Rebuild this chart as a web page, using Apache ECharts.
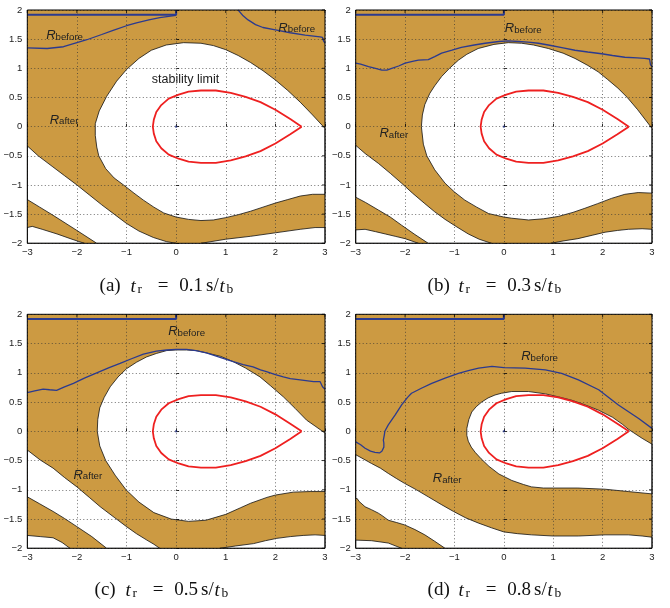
<!DOCTYPE html>
<html><head><meta charset="utf-8">
<script src="https://cdn.jsdelivr.net/npm/echarts@6/dist/echarts.min.js"></script>
<style>html,body{margin:0;padding:0;background:#fff}#c{width:670px;height:608px}</style>
</head><body><div id="c"></div>
<script>
// ---------- tick values ----------
const xTicks = [-3, -2, -1, 0, 1, 2, 3];
const yTicks = [-2, -1.5, -1, -0.5, 0, 0.5, 1, 1.5, 2];

// ---------- stability limit (red teardrop, same in all panels) ----------
const stabilityLimit = [[2.53,0],[2.3,0.13],[2.0,0.29],[1.7,0.42],[1.4,0.51],[1.1,0.58],[0.8,0.62],[0.5,0.62],[0.25,0.6],[0.05,0.55],[-0.15,0.48],[-0.3,0.37],[-0.4,0.25],[-0.45,0.12],[-0.47,0],[-0.45,-0.12],[-0.4,-0.25],[-0.3,-0.37],[-0.15,-0.48],[0.05,-0.55],[0.25,-0.6],[0.5,-0.62],[0.8,-0.62],[1.1,-0.58],[1.4,-0.51],[1.7,-0.42],[2.0,-0.29],[2.3,-0.13],[2.53,0]];
const origin = [[0, 0]];
const rectBefore = [[-3,1.92],[0,1.92],[0,2]];

// ---------- panel (a) t_r = 0.1 ----------
const A_center = [[3,-0.03],[2.75,0.2],[2.5,0.42],[2.25,0.62],[2.0,0.8],[1.75,0.96],[1.5,1.1],[1.25,1.22],[1.0,1.32],[0.75,1.39],[0.5,1.43],[0.15,1.44],[-0.2,1.4],[-0.5,1.31],[-0.75,1.17],[-1.0,0.98],[-1.2,0.78],[-1.4,0.52],[-1.55,0.27],[-1.63,0.05],[-1.63,-0.15],[-1.6,-0.35],[-1.56,-0.5],[-1.42,-0.72],[-1.25,-0.88],[-1.06,-1.0],[-0.85,-1.14],[-0.66,-1.26],[-0.45,-1.38],[-0.25,-1.48],[0,-1.55],[0.25,-1.59],[0.5,-1.61],[0.75,-1.6],[1.0,-1.56],[1.25,-1.51],[1.5,-1.45],[1.75,-1.38],[2.0,-1.31],[2.25,-1.25],[2.5,-1.19],[2.75,-1.16],[3,-1.16]];
const A_band = [[-3,-0.33],[-2.78,-0.5],[-2.5,-0.68],[-2.25,-0.84],[-2.0,-1.0],[-1.75,-1.17],[-1.5,-1.34],[-1.25,-1.5],[-1.0,-1.66],[-0.75,-1.79],[-0.46,-1.9],[-0.2,-1.97],[0,-2.0],[-1.6,-2],[-2.0,-1.78],[-2.48,-1.52],[-2.75,-1.38],[-3,-1.25]];
const A_bottom = [[0.5,-2],[1.0,-1.93],[1.5,-1.88],[2.0,-1.82],[2.5,-1.76],[2.8,-1.73],[3,-1.73],[3,-2]];
const A_corner = [[-3,-1.73],[-2.9,-1.71],[-2.7,-1.76],[-2.4,-1.84],[-2.1,-1.93],[-1.85,-2],[-3,-2]];
const A_blueLeft = [[-3,1.35],[-2.6,1.34],[-2.27,1.37],[-2.0,1.44],[-1.8,1.49],[-1.5,1.58],[-1.27,1.65],[-1.0,1.73],[-0.8,1.78],[-0.55,1.83],[-0.33,1.87],[-0.15,1.89],[0,1.91]];
const A_blueRight = [[1.25,2],[1.35,1.9],[1.45,1.83],[1.6,1.75],[1.75,1.7],[2.0,1.66],[2.3,1.61],[2.6,1.57],[2.9,1.54],[2.95,1.53],[2.97,1.47],[3,1.43]];

// ---------- panel (b) t_r = 0.3 ----------
const B_center = [[3,-0.03],[2.71,0.29],[2.5,0.5],[2.31,0.66],[2.1,0.81],[1.91,0.94],[1.7,1.05],[1.44,1.17],[1.2,1.26],[0.9,1.34],[0.6,1.4],[0.36,1.43],[0.09,1.44],[-0.2,1.41],[-0.52,1.34],[-0.75,1.24],[-0.92,1.14],[-1.1,1.0],[-1.26,0.86],[-1.4,0.7],[-1.5,0.57],[-1.6,0.38],[-1.65,0.2],[-1.67,0],[-1.63,-0.3],[-1.56,-0.5],[-1.4,-0.74],[-1.19,-0.97],[-1.0,-1.12],[-0.79,-1.26],[-0.55,-1.38],[-0.31,-1.49],[0,-1.55],[0.16,-1.57],[0.5,-1.6],[0.8,-1.58],[1.1,-1.54],[1.4,-1.47],[1.64,-1.4],[1.9,-1.32],[2.18,-1.23],[2.45,-1.16],[2.72,-1.13],[3,-1.14]];
const B_band = [[-3,-0.32],[-2.81,-0.46],[-2.54,-0.63],[-2.3,-0.8],[-2.07,-0.97],[-1.85,-1.14],[-1.6,-1.32],[-1.4,-1.46],[-1.19,-1.59],[-0.95,-1.72],[-0.72,-1.84],[-0.5,-1.93],[-0.25,-2.0],[-1.53,-2],[-1.8,-1.85],[-2.07,-1.69],[-2.3,-1.55],[-2.54,-1.43],[-2.8,-1.3],[-3,-1.21]];
const B_bottom = [[0.95,-2],[1.2,-1.96],[1.5,-1.92],[1.8,-1.86],[2.05,-1.81],[2.3,-1.78],[2.52,-1.76],[2.8,-1.75],[3,-1.76],[3,-2]];
const B_corner = [[-3,-1.77],[-2.81,-1.76],[-2.6,-1.8],[-2.4,-1.84],[-2.2,-1.88],[-2,-1.92],[-1.73,-2],[-3,-2]];
const B_blue = [[-3,1.09],[-2.9,1.07],[-2.74,1.03],[-2.6,1.0],[-2.47,0.97],[-2.37,0.97],[-2.27,1.0],[-2.13,1.04],[-2.0,1.09],[-1.85,1.12],[-1.73,1.14],[-1.53,1.15],[-1.4,1.2],[-1.26,1.26],[-1.05,1.31],[-0.86,1.36],[-0.6,1.4],[-0.38,1.43],[-0.1,1.46],[0.09,1.47],[0.3,1.46],[0.49,1.45],[0.7,1.43],[0.9,1.4],[1.2,1.35],[1.44,1.31],[1.7,1.28],[1.98,1.25],[2.2,1.22],[2.45,1.19],[2.7,1.18],[2.85,1.17],[2.95,1.16],[2.97,1.06],[3,1.03]];

// ---------- panel (c) t_r = 0.5 ----------
const C_center = [[3,-0.03],[2.8,0.09],[2.63,0.19],[2.4,0.39],[2.16,0.59],[1.9,0.78],[1.69,0.93],[1.4,1.08],[1.15,1.19],[0.9,1.28],[0.61,1.34],[0.4,1.38],[0.21,1.39],[0,1.39],[-0.19,1.38],[-0.4,1.33],[-0.6,1.27],[-0.8,1.18],[-1.0,1.07],[-1.17,0.93],[-1.33,0.76],[-1.45,0.58],[-1.54,0.4],[-1.58,0.2],[-1.59,0],[-1.54,-0.25],[-1.42,-0.5],[-1.23,-0.75],[-1.01,-1.0],[-0.75,-1.21],[-0.45,-1.39],[-0.1,-1.5],[0.25,-1.54],[0.6,-1.52],[1.0,-1.42],[1.29,-1.31],[1.5,-1.23],[1.83,-1.13],[2.0,-1.09],[2.36,-1.04],[2.7,-1.03],[3,-1.03]];
const C_band = [[-3,-0.32],[-2.74,-0.49],[-2.48,-0.63],[-2.25,-0.79],[-2,-0.95],[-1.75,-1.13],[-1.53,-1.29],[-1.25,-1.47],[-1.0,-1.63],[-0.8,-1.75],[-0.59,-1.86],[-0.45,-1.93],[-0.33,-2.0],[-1.4,-2],[-1.7,-1.8],[-2,-1.63],[-2.25,-1.49],[-2.48,-1.37],[-2.75,-1.24],[-3,-1.12]];
const C_bottom = [[0.88,-2],[1.2,-1.96],[1.56,-1.92],[1.8,-1.87],[2.03,-1.83],[2.3,-1.8],[2.56,-1.78],[2.8,-1.77],[3,-1.78],[3,-2]];
const C_corner = [[-3,-1.78],[-2.74,-1.8],[-2.48,-1.82],[-2.3,-1.9],[-2.14,-2],[-3,-2]];
const C_blue = [[-3,0.66],[-2.85,0.69],[-2.68,0.72],[-2.55,0.71],[-2.41,0.7],[-2.25,0.76],[-2.07,0.82],[-1.85,0.91],[-1.6,1.0],[-1.35,1.09],[-1.13,1.16],[-0.9,1.24],[-0.66,1.32],[-0.4,1.37],[-0.19,1.39],[0.0,1.4],[0.21,1.4],[0.4,1.38],[0.61,1.34],[0.9,1.26],[1.15,1.19],[1.35,1.14],[1.55,1.1],[1.7,1.05],[1.82,1.02],[2.0,0.97],[2.16,0.93],[2.3,0.9],[2.5,0.88],[2.77,0.85],[2.9,0.85],[2.95,0.76],[3,0.72]];

// ---------- panel (d) t_r = 0.8 ----------
const D_center = [[2.53,0.03],[2.4,0.12],[2.2,0.24],[1.92,0.36],[1.65,0.45],[1.38,0.53],[1.1,0.59],[0.84,0.64],[0.5,0.68],[0.16,0.68],[-0.05,0.65],[-0.18,0.62],[-0.32,0.57],[-0.45,0.5],[-0.56,0.42],[-0.65,0.33],[-0.71,0.2],[-0.75,0.05],[-0.75,-0.07],[-0.72,-0.17],[-0.66,-0.27],[-0.58,-0.36],[-0.46,-0.47],[-0.3,-0.6],[-0.1,-0.73],[0.16,-0.84],[0.4,-0.91],[0.56,-0.95],[0.8,-0.97],[1.0,-0.97],[1.5,-0.97],[2.05,-0.99],[2.52,-1.03],[3,-1.07],[3,-0.22],[2.8,-0.12],[2.62,-0.02]];
const D_band = [[-3,-0.4],[-2.85,-0.47],[-2.68,-0.55],[-2.5,-0.63],[-2.34,-0.72],[-2.17,-0.81],[-2.01,-0.89],[-1.77,-1.0],[-1.53,-1.12],[-1.27,-1.25],[-1.02,-1.37],[-0.77,-1.48],[-0.51,-1.57],[-0.25,-1.65],[0,-1.72],[0.28,-1.75],[0.56,-1.77],[1,-1.79],[1.51,-1.79],[2.05,-1.77],[2.52,-1.77],[2.8,-1.79],[3,-1.81],[3,-2],[-1.19,-2],[-1.4,-1.88],[-1.6,-1.77],[-1.8,-1.68],[-2.01,-1.6],[-2.17,-1.56],[-2.34,-1.52],[-2.45,-1.45],[-2.54,-1.4],[-2.68,-1.34],[-2.81,-1.29],[-2.93,-1.2],[-2.97,-1.15],[-3,-1.15]];
const D_corner = [[-3,-1.86],[-2.68,-1.87],[-2.34,-1.91],[-2.07,-2],[-3,-2]];
const D_blue = [[-3,-0.18],[-2.9,-0.23],[-2.81,-0.29],[-2.7,-0.34],[-2.61,-0.36],[-2.52,-0.37],[-2.47,-0.34],[-2.43,-0.27],[-2.43,-0.2],[-2.44,-0.15],[-2.42,-0.06],[-2.41,0],[-2.34,0.11],[-2.2,0.28],[-2.07,0.45],[-1.95,0.58],[-1.87,0.65],[-1.66,0.74],[-1.46,0.82],[-1.19,0.91],[-0.92,0.99],[-0.7,1.04],[-0.51,1.08],[-0.24,1.11],[0,1.09],[0.43,1.08],[0.84,1.05],[1.17,0.99],[1.51,0.88],[1.92,0.71],[2.32,0.45],[2.73,0.22],[3,0.05]];

// ---------- annotations (data coordinates) ----------
const A_labels = [{x:-2.62, y:1.62, main:'R', sub:'before'}, {x:2.06, y:1.75, main:'R', sub:'before'}, {x:-2.55, y:0.17, main:'R', sub:'after'}, {x:-0.49, y:0.8, text:'stability limit'}];
const B_labels = [{x:0.02, y:1.74, main:'R', sub:'before'}, {x:-2.52, y:-0.06, main:'R', sub:'after'}];
const C_labels = [{x:-0.16, y:1.76, main:'R', sub:'before'}, {x:-2.07, y:-0.69, main:'R', sub:'after'}];
const D_labels = [{x:0.35, y:1.34, main:'R', sub:'before'}, {x:-1.44, y:-0.75, main:'R', sub:'after'}];

const captions = [
  {tag:'(a)', val:'0.1'}, {tag:'(b)', val:'0.3'}, {tag:'(c)', val:'0.5'}, {tag:'(d)', val:'0.8'}
];

// ---------- layout / style ----------
const BROWN = '#CC9A42';
const panels = [
  {grid:{left:27.3, top:10, width:297.7, height:233.3}, whites:[A_center, A_band, A_bottom, A_corner], blues:[A_blueLeft, A_blueRight], labels:A_labels, cap:[167,284]},
  {grid:{left:355.7, top:10, width:296.3, height:233.3}, whites:[B_center, B_band, B_bottom, B_corner], blues:[B_blue], labels:B_labels, cap:[495,284]},
  {grid:{left:27.3, top:314.3, width:297.7, height:234}, whites:[C_center, C_band, C_bottom, C_corner], blues:[C_blue], labels:C_labels, cap:[162,588]},
  {grid:{left:355.7, top:314.3, width:296.3, height:234}, whites:[D_center, D_band, D_corner], blues:[D_blue], labels:D_labels, cap:[495,588]}
];

const fmt = v => (v < 0 ? '\u2212' + Math.abs(v) : String(v));
const grids = [], xAxes = [], yAxes = [], series = [], graphics = [];

function polySeries(i, pts, fill, stroke, lw, z) {
  return {
    type:'custom', xAxisIndex:i, yAxisIndex:i, z:z, silent:true, clip:true,
    data:[[0,0]],
    renderItem:(params, api) => ({
      type:'polygon',
      shape:{points: pts.map(p => api.coord(p))},
      style:{fill:fill, stroke:stroke, lineWidth:lw}
    })
  };
}
function lineSeries(i, pts, color, width, z) {
  return {type:'line', xAxisIndex:i, yAxisIndex:i, data:pts, z:z, silent:true,
    showSymbol:false, symbol:'none', lineStyle:{color:color, width:width}};
}

const capFont = 'Liberation Serif';
const capRich = {
  n:{fontSize:19, fontFamily:capFont, lineHeight:24, verticalAlign:'bottom', fill:'#111', color:'#111', align:'left'},
  c:{fontSize:19, fontFamily:capFont, lineHeight:24, verticalAlign:'bottom', fill:'#111', color:'#111', align:'center'},
  i:{fontSize:19, fontStyle:'italic', fontFamily:capFont, lineHeight:24, verticalAlign:'bottom', fill:'#111', color:'#111', align:'left'},
  s:{fontSize:13.5, fontFamily:capFont, lineHeight:13, verticalAlign:'bottom', fill:'#111', color:'#111', align:'left'}
};
function tok(style, txt, w) {
  return {style:style, txt:txt, w:w};
}

panels.forEach((P, i) => {
  grids.push(Object.assign({show:false, outerBoundsMode:'none', containLabel:false}, P.grid));
  xAxes.push({gridIndex:i, type:'value', min:-3, max:3, interval:1, z:3,
    axisLine:{show:false},
    axisTick:{show:true, inside:true, length:3, lineStyle:{color:'#000', width:0.8}},
    axisLabel:{fontSize:9.5, color:'#222', margin:4, fontFamily:'Liberation Sans', formatter:fmt},
    splitLine:{show:true, lineStyle:{color:'#333', type:[1,2.5], width:0.7}}});
  yAxes.push({gridIndex:i, type:'value', min:-2, max:2, interval:0.5, z:3,
    axisLine:{show:false},
    axisTick:{show:true, inside:true, length:3, lineStyle:{color:'#000', width:0.8}},
    axisLabel:{fontSize:9.5, color:'#222', margin:5, fontFamily:'Liberation Sans', formatter:fmt},
    splitLine:{show:true, lineStyle:{color:'#333', type:[1,2.5], width:0.7}}});

  // brown background region
  series.push(polySeries(i, [[-3,-2],[3,-2],[3,2],[-3,2]], BROWN, null, 0, 1));
  // white regions
  P.whites.forEach(w => series.push(polySeries(i, w, '#ffffff', '#111', 0.8, 2)));
  // blue R_before boundaries
  P.blues.forEach(b => series.push(lineSeries(i, b, '#2B3A8F', 1.3, 5)));
  series.push(lineSeries(i, rectBefore, '#2B3A8F', 2, 5));
  // red stability limit
  series.push(lineSeries(i, stabilityLimit, '#EE2020', 1.8, 6));
  // origin point
  series.push({type:'scatter', xAxisIndex:i, yAxisIndex:i, data:origin, z:6, silent:true,
    symbol:'rect', symbolSize:2, itemStyle:{color:'#1a2a80'}});
  // labels
  series.push({type:'custom', xAxisIndex:i, yAxisIndex:i, z:7, silent:true, clip:false,
    data:P.labels.map(l => [l.x, l.y]),
    renderItem:(params, api) => {
      const L = P.labels[params.dataIndex];
      const p = api.coord([api.value(0), api.value(1)]);
      if (L.text) {
        return {type:'text', x:p[0], y:p[1], style:{text:L.text, fill:'#1a1a1a', fontSize:12.5,
          fontFamily:'Liberation Sans', align:'left', verticalAlign:'middle'}};
      }
      return {type:'text', x:p[0], y:p[1], style:{
        text:'{r|' + L.main + '}{s|' + L.sub + '}', align:'left', verticalAlign:'middle',
        rich:{
          r:{fontSize:13, fontStyle:'italic', fontFamily:'Liberation Sans', lineHeight:20, verticalAlign:'bottom', fill:'#222', color:'#222'},
          s:{fontSize:9.7, fontFamily:'Liberation Sans', lineHeight:8, verticalAlign:'bottom', fill:'#222', color:'#222'}
        }}};
    }});
  // frame + top/right ticks
  series.push({type:'custom', xAxisIndex:i, yAxisIndex:i, z:8, silent:true, clip:false,
    data:[[0,0]],
    renderItem:(params, api) => {
      const bl = api.coord([-3,-2]), tr = api.coord([3,2]);
      const ch = [{type:'rect', shape:{x:bl[0], y:tr[1], width:tr[0]-bl[0], height:bl[1]-tr[1]},
        style:{fill:null, stroke:'#000', lineWidth:1}}];
      xTicks.forEach(t => { const c = api.coord([t, 2]);
        ch.push({type:'line', shape:{x1:c[0], y1:c[1], x2:c[0], y2:c[1]+3}, style:{stroke:'#000', lineWidth:0.8}}); });
      yTicks.forEach(t => { const c = api.coord([3, t]);
        ch.push({type:'line', shape:{x1:c[0], y1:c[1], x2:c[0]-3, y2:c[1]}, style:{stroke:'#000', lineWidth:0.8}}); });
      return {type:'group', children:ch};
    }});

  // caption: (x) t_r = v s/t_b, tokens with fixed widths
  const C = captions[i];
  const toks = [
    tok('n', C.tag, 31), tok('i', 't', 7), tok('s', 'r', 12), tok('c', '=', 27),
    tok('n', C.val, 29), tok('n', 's/', 13.5), tok('i', 't', 6.3), tok('s', 'b', 9)
  ];
  const rich = {};
  let text = '';
  toks.forEach((t, k) => {
    const name = 't' + k;
    rich[name] = Object.assign({}, capRich[t.style], {width:t.w});
    text += '{' + name + '|' + t.txt + '}';
  });
  graphics.push({type:'text', x:P.cap[0], y:P.cap[1], silent:true,
    style:{text:text, align:'center', verticalAlign:'middle', rich:rich}});
});

const chart = echarts.init(document.getElementById('c'), null, {renderer:'canvas'});
chart.setOption({
  animation:false,
  backgroundColor:'#ffffff',
  grid:grids, xAxis:xAxes, yAxis:yAxes, series:series, graphic:graphics
});
</script></body></html>
